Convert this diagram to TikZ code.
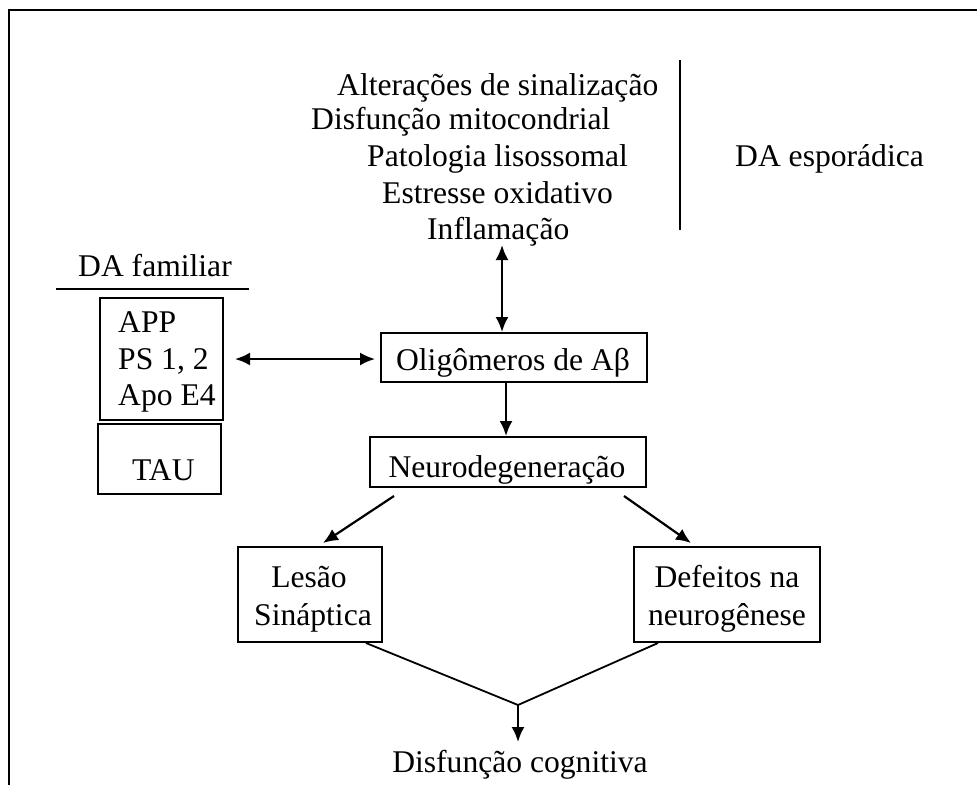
\documentclass[tikz,border=0pt]{standalone}
\usepackage{fontspec}
\setmainfont{Liberation Serif}
\usetikzlibrary{arrows.meta,calc}
\newcommand\diagfs{\fontsize{31.6}{36}\selectfont}
\begin{document}
\begin{tikzpicture}[x=1pt,y=-1pt,
  txt/.style={font=\diagfs, inner sep=0pt, anchor=base west},
  ctxt/.style={font=\diagfs, inner sep=0pt, anchor=base},
  box/.style={draw, line width=2pt, inner sep=0pt, anchor=north west},
  ln/.style={line width=2.2pt},
  arr/.style={line width=2.2pt, -{Latex[length=15pt,width=13pt]}},
  dbl/.style={line width=2.2pt, {Latex[length=15pt,width=13pt]}-{Latex[length=15pt,width=13pt]}}]
\useasboundingbox (0,0) rectangle (977,785);
% frame
\coordinate (fbl) at (9,785);
\coordinate (ftl) at (9,10);
\coordinate (ftr) at (977,10);
\draw[ln] (fbl) -- (ftl) -- (ftr);

% sporadic causes
\node[txt] (alt) at (337,95) {Alterações de sinalização};
\node[txt] (dis) at (311,129) {Disfunção mitocondrial};
\node[txt] (pat) at (367,166) {Patologia lisossomal};
\node[txt] (est) at (382,203) {Estresse oxidativo};
\node[txt] (inf) at (427,239) {Inflamação};
\coordinate (sepT) at (680,60);
\coordinate (sepB) at (680,230);
\draw[line width=1.8pt] (sepT) -- (sepB);
\node[txt] (esp) at (735,166) {DA esporádica};

% familial
\node[txt] (fam) at (78,276) {DA familiar};
\coordinate (famL) at (56,289);
\coordinate (famR) at (249,289);
\draw[line width=1.8pt] (famL) -- (famR);
\node[box, minimum width=123, minimum height=122] (app) at (99,297) {};
\node[txt] (appa) at (118,332) {APP};
\node[txt] (apps) at (118,369) {PS 1, 2};
\node[txt] (appe) at (118,405) {Apo E4};
\node[box, minimum width=123, minimum height=70] (tau) at (97,423) {};
\node[txt] (taut) at (132,480) {TAU};

% main chain
\node[box, minimum width=266, minimum height=49] (olig) at (380,332) {};
\node[ctxt] (oligt) at (513,370) {Oligômeros de Aβ};
\node[box, minimum width=276, minimum height=50] (neuro) at (369,436) {};
\node[ctxt] (neurot) at (507,477) {Neurodegeneração};
\node[box, minimum width=144, minimum height=95] (les) at (237,546) {};
\node[ctxt] (les1) at (309,587) {Lesão};
\node[ctxt] (les2) at (313,625) {Sináptica};
\node[box, minimum width=186, minimum height=95] (def) at (633,546) {};
\node[ctxt] (def1) at (727,587) {Defeitos na};
\node[ctxt] (def2) at (727,625) {neurogênese};
\node[ctxt] (cog) at (520,772) {Disfunção cognitiva};

% connectors
\coordinate (topA) at (502,245);
\draw[dbl] (topA) -- (topA |- olig.north);
\draw[dbl, shorten <=11pt, shorten >=5pt] (app.east) -- (app.east -| olig.west);
\coordinate (onA) at ($(olig.south)+(-8,0)$);
\draw[arr] (onA) -- (onA |- neuro.north);
\draw[arr] ($(neuro.south west)+(25,8)$) -- ($(les.north west)+(86,-3)$);
\draw[arr] ($(neuro.south east)+(-23,8)$) -- ($(def.north west)+(58,-3)$);
\coordinate (apex) at (518,705);
\draw[line width=1.8pt] ($(les.south east)+(-17,0)$) -- (apex) -- ($(def.south west)+(25,0)$);
\coordinate (cogTop) at (518,742);
\draw[arr] (apex) -- (cogTop);
\end{tikzpicture}
\end{document}
